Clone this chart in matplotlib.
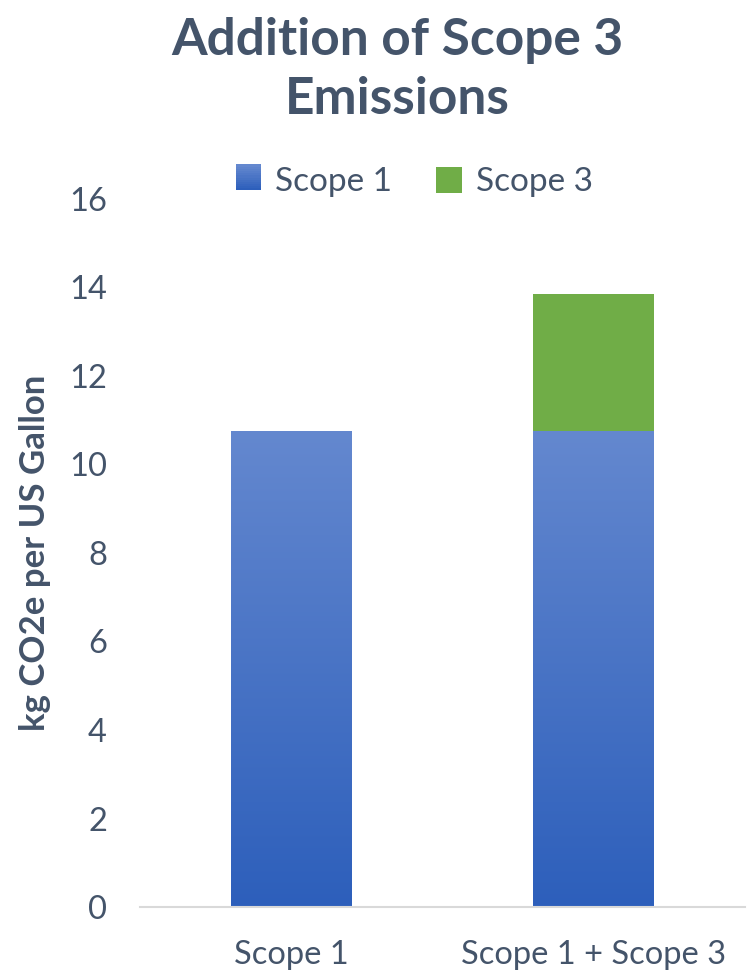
import numpy as np
import matplotlib.pyplot as plt
import matplotlib.colors as mcolors
from matplotlib.patches import Rectangle
from matplotlib.legend_handler import HandlerBase

categories = ["Scope 1", "Scope 1 + Scope 3"]
scope1 = [10.76, 10.76]
scope3 = [0.0, 3.09]
yticks = [0, 2, 4, 6, 8, 10, 12, 14, 16]

text_col = "#44546A"
blue_top = "#6488CF"
blue_bot = "#2D5FBB"
green = "#70AD47"

plt.rcParams['font.family'] = ['Lato', 'DejaVu Sans']

blue_cmap = mcolors.LinearSegmentedColormap.from_list("b", [blue_bot, blue_top])
grad = np.linspace(0, 1, 256).reshape(-1, 1)


class GradHandler(HandlerBase):
    def create_artists(self, legend, orig, xd, yd, w, h, fontsize, trans):
        arts = []
        n = 12
        s = min(w, h)
        x0 = xd + (w - s) / 2
        for i in range(n):
            c = blue_cmap(i / (n - 1))
            r = Rectangle((x0, yd + s * i / n), s, s / n + 0.3, fc=c, ec="none",
                          transform=trans)
            arts.append(r)
        return arts


fig = plt.figure(figsize=(7.5, 9.75), dpi=100)
ax = fig.add_axes([0.187, 0.0697, 0.806, 0.7264])

x = np.arange(len(categories))
b1 = ax.bar(x, scope1, width=0.4, color=blue_top, label="Scope 1")
b3 = ax.bar(x, scope3, width=0.4, bottom=scope1, color=green, label="Scope 3")

# gradient fill for scope 1 bars
for r in b1:
    r.set_facecolor("none")
    x0, y0 = r.get_x(), r.get_y()
    im = ax.imshow(grad, cmap=blue_cmap, aspect="auto", origin="lower",
                   extent=[x0, x0 + r.get_width(), y0, y0 + r.get_height()],
                   zorder=r.get_zorder())
    im.set_clip_path(r)

ax.set_xlim(-0.5, 1.5)
ax.set_ylim(0, 16)
ax.set_yticks(yticks)
ax.set_xticks(x)
ax.set_xticklabels(categories)
ax.tick_params(axis="both", length=0, labelsize=23.5, labelcolor=text_col)
ax.tick_params(axis="x", pad=24)
ax.tick_params(axis="y", pad=24)
for s in ["top", "right", "left"]:
    ax.spines[s].set_visible(False)
ax.spines["bottom"].set_color("#D9D9D9")
ax.spines["bottom"].set_linewidth(1.5)

ax.set_ylabel("kg CO2e per US Gallon", fontsize=25, fontweight="bold",
              color=text_col, labelpad=13)

fig.text(0.53, 0.928, "Addition of Scope 3\nEmissions", ha="center", va="center",
         fontsize=37, fontweight="bold", color=text_col, linespacing=1.3)

leg = fig.legend([b1[0], b3[0]], ["Scope 1", "Scope 3"], loc="center",
                 bbox_to_anchor=(0.552, 0.813), ncol=2, frameon=False,
                 fontsize=24, labelcolor=text_col, handlelength=0.8,
                 handleheight=0.8, handletextpad=0.4, columnspacing=1.3,
                 handler_map={b1[0]: GradHandler()})

fig.savefig("out.png", dpi=100)
